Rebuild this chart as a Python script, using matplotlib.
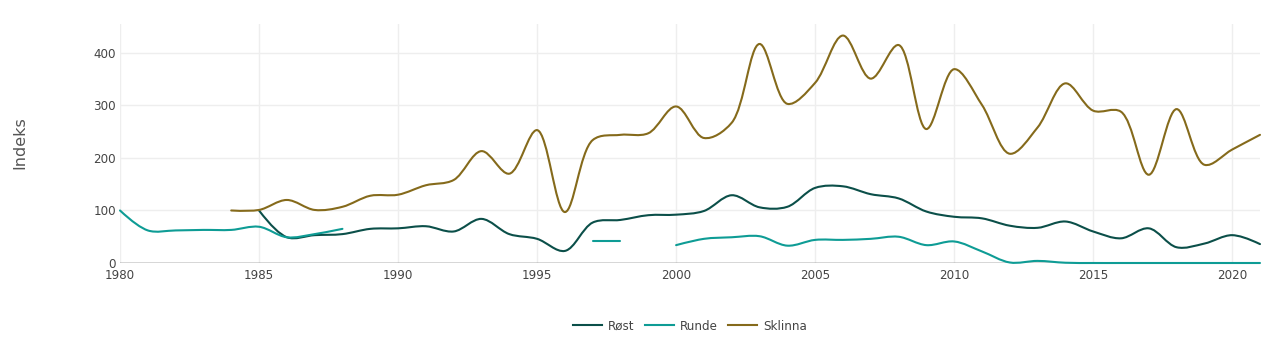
import numpy as np
import matplotlib
matplotlib.use("Agg")
import matplotlib.pyplot as plt
from matplotlib.path import Path
from matplotlib.patches import PathPatch
from matplotlib.lines import Line2D

nan = np.nan
years = list(range(1980, 2022))

rost = [nan, nan, nan, nan, nan, 100, 49, 53, 55, 65,
        66, 70, 60, 84, 55, 46, 23, 77, 82, 91,
        92, 99, 129, 106, 107, 143, 146, 131, 123, 98,
        88, 85, 71, 67, 79, 60, 47, 66, 30, 37,
        53, 36]
runde = [100, 62, 62, 63, 63, 69, 49, 55, 65, nan,
         nan, nan, nan, nan, nan, nan, nan, 42.5, 42.5, nan,
         34, 46, 49, 51, 33, 44, 44, 46, 50, 34,
         41, 22, 1, 4, 0.5, 0, 0, 0, 0, 0,
         0, 0]
sklinna = [nan, nan, nan, nan, 100, 101, 120, 101, 107, 128,
           130, 148, 158, 213, 170, 253, 97, 234, 244, 247,
           298, 238, 267, 417, 303, 343, 433, 351, 415, 255,
           369, 301, 208, 258, 342, 290, 288, 168, 293, 187,
           216, 244]

series_names = ["Røst", "Runde", "Sklinna"]
series_values = [rost, runde, sklinna]
series_colors = ["#0b4f49", "#0e9c95", "#856a1b"]

x_ticks = [1980, 1985, 1990, 1995, 2000, 2005, 2010, 2015, 2020]
y_ticks = [0, 100, 200, 300, 400]

W, H = 1280, 354
fig = plt.figure(figsize=(W / 100, H / 100), dpi=100)
ax = fig.add_axes([120 / W, (H - 263) / H, 1140 / W, (263 - 24) / H])
ax.set_xlim(1980, 2021)
ax.set_ylim(0, 455)
for s in ax.spines.values():
    s.set_visible(False)
ax.set_xticks(x_ticks)
ax.set_yticks(y_ticks)
ax.tick_params(axis="both", length=0, labelsize=8.6, labelcolor="#444444")
ax.tick_params(axis="x", pad=4)
ax.tick_params(axis="y", pad=3)
ax.grid(True, color="#eeeeee", linewidth=1)
ax.set_axisbelow(True)
ax.axhline(0, color="#444444", linewidth=1, zorder=1)
fig.text(20 / W, 1 - 143 / H, "Indeks", rotation=90, ha="center", va="center",
         fontsize=11.5, color="#555555")


def make_tangent(p0, p1, p2, s):
    d1x, d1y = p0[0] - p1[0], p0[1] - p1[1]
    d2x, d2y = p2[0] - p1[0], p2[1] - p1[1]
    d1a = (d1x * d1x + d1y * d1y) ** 0.25
    d2a = (d2x * d2x + d2y * d2y) ** 0.25
    numx = (d2a * d2a * d1x - d1a * d1a * d2x) * s
    numy = (d2a * d2a * d1y - d1a * d1a * d2y) * s
    den1 = 3 * d2a * (d1a + d2a)
    den2 = 3 * d1a * (d1a + d2a)
    a = (p1[0] + (numx / den1 if den1 else 0), p1[1] + (numy / den1 if den1 else 0))
    b = (p1[0] - (numx / den2 if den2 else 0), p1[1] - (numy / den2 if den2 else 0))
    return a, b


def spline_path(pts, s=1.0):
    n = len(pts)
    if n < 3:
        return pts, [Path.MOVETO] + [Path.LINETO] * (n - 1)
    tans = [make_tangent(pts[i - 1], pts[i], pts[i + 1], s) for i in range(1, n - 1)]
    verts = [pts[0], tans[0][0], pts[1]]
    codes = [Path.MOVETO, Path.CURVE3, Path.CURVE3]
    for i in range(2, n - 1):
        verts += [tans[i - 2][1], tans[i - 1][0], pts[i]]
        codes += [Path.CURVE4] * 3
    verts += [tans[n - 3][1], pts[n - 1]]
    codes += [Path.CURVE3] * 2
    return verts, codes


fig.canvas.draw()
inv = ax.transData.inverted()
for vals, col in zip(series_values, series_colors):
    segs, cur = [], []
    for x, v in zip(years, vals):
        if np.isnan(v):
            if cur:
                segs.append(cur)
            cur = []
        else:
            cur.append((x, v))
    if cur:
        segs.append(cur)
    for seg in segs:
        disp = ax.transData.transform(np.array(seg, dtype=float))
        verts, codes = spline_path([tuple(p) for p in disp], 1.0)
        data_verts = inv.transform(np.array(verts))
        patch = PathPatch(Path(data_verts, codes), facecolor="none", edgecolor=col,
                          linewidth=1.5, capstyle="round", joinstyle="round", zorder=3)
        patch.set_clip_on(False)
        ax.add_patch(patch)

handles = [Line2D([0], [0], color=c, linewidth=1.5) for c in series_colors]
leg = fig.legend(handles, series_names, loc="center", bbox_to_anchor=(690 / W, 1 - 326 / H),
                 ncol=3, frameon=False, fontsize=8.6, handlelength=2.4, handletextpad=0.5,
                 columnspacing=0.9)
for t in leg.get_texts():
    t.set_color("#444444")

fig.savefig("out.png", dpi=100)
